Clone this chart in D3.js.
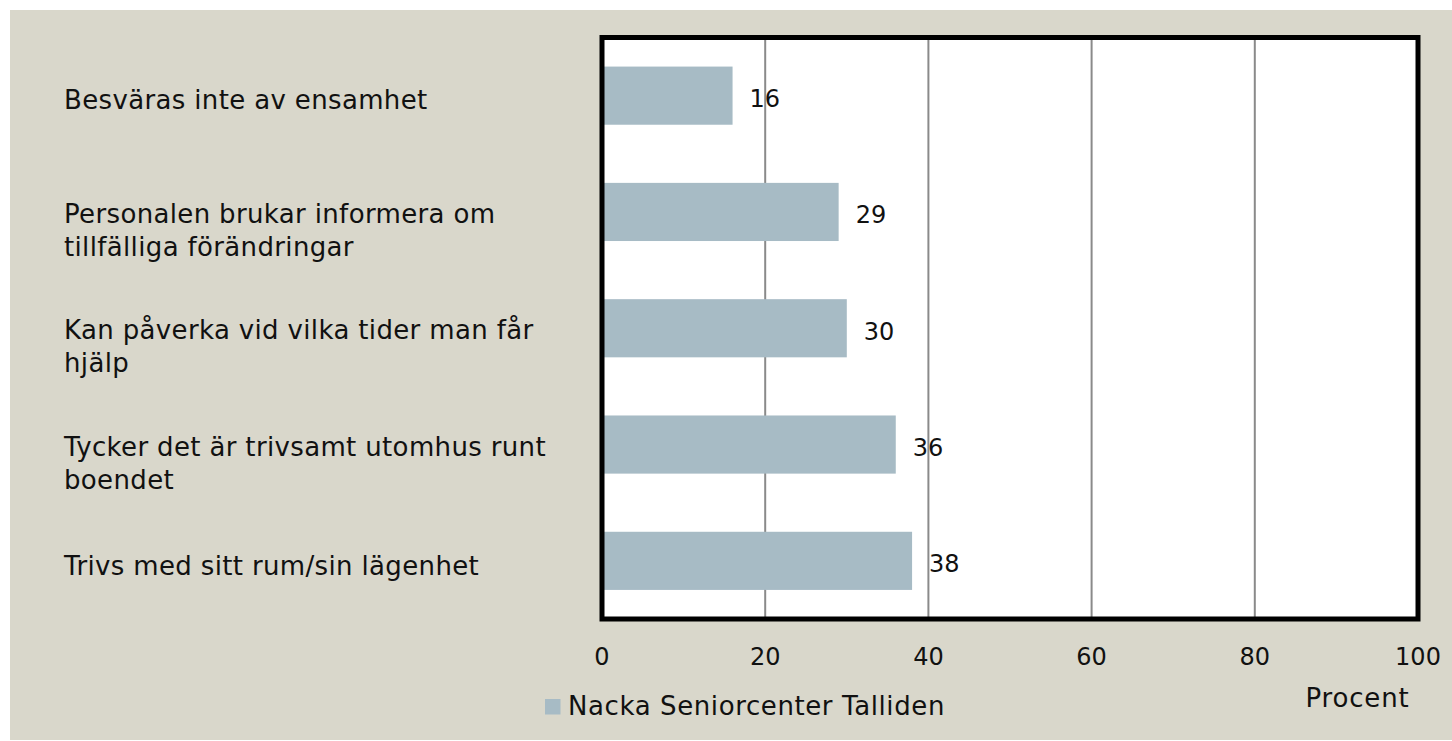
<!DOCTYPE html>
<html lang="sv">
<head>
    <meta charset="UTF-8">
    <title>Nacka Seniorcenter Talliden</title>
    <script src="https://d3js.org/d3.v7.min.js"></script>
    <style>
        body { margin: 0; background: #fff; }
        text { font-family: "DejaVu Sans", sans-serif; fill: #111; }
    </style>
</head>
<body>
<svg id="chart"></svg>

<script>
    // Data
    let categories = [
        "Besväras inte av ensamhet",
        "Personalen brukar informera om\ntillfälliga förändringar",
        "Kan påverka vid vilka tider man får\nhjälp",
        "Tycker det är trivsamt utomhus runt\nboendet",
        "Trivs med sitt rum/sin lägenhet"
    ];
    let values = [16, 29, 30, 36, 38];
    let ticks = [0, 20, 40, 60, 80, 100];
    let seriesName = "Nacka Seniorcenter Talliden";
    let axisTitle = "Procent";

    let width = 1452,
        height = 741;

    let plot = {left: 602, right: 1418, top: 37.5, bottom: 619};

    let svg = d3.select("#chart")
        .attr("width", width)
        .attr("height", height);

    // beige background
    svg.append("rect")
        .attr("x", 10)
        .attr("y", 10)
        .attr("width", width - 10)
        .attr("height", height - 11)
        .attr("fill", "#d9d7cb");

    let x = d3.scaleLinear()
        .domain([0, 100])
        .range([plot.left, plot.right]);

    let y = d3.scaleBand()
        .domain(categories)
        .range([plot.top, plot.bottom])
        .paddingInner(0.5)
        .paddingOuter(0.25);

    // plot area
    svg.append("rect")
        .attr("x", plot.left)
        .attr("y", plot.top)
        .attr("width", plot.right - plot.left)
        .attr("height", plot.bottom - plot.top)
        .attr("fill", "#fff");

    // gridlines
    svg.selectAll(".grid")
        .data(ticks.slice(1, -1))
        .enter()
        .append("line")
        .attr("x1", d => x(d))
        .attr("x2", d => x(d))
        .attr("y1", plot.top)
        .attr("y2", plot.bottom)
        .attr("stroke", "#8a8a8a")
        .attr("stroke-width", 2);

    // bars
    svg.selectAll(".bar")
        .data(values)
        .enter()
        .append("rect")
        .attr("x", x(0))
        .attr("y", (d, i) => y(categories[i]))
        .attr("width", d => x(d) - x(0))
        .attr("height", y.bandwidth())
        .attr("fill", "#a7bbc5");

    // value labels
    svg.selectAll(".val")
        .data(values)
        .enter()
        .append("text")
        .attr("x", d => x(d) + 17)
        .attr("y", (d, i) => y(categories[i]) + y.bandwidth() / 2 + 11.5)
        .style("font-size", "24px")
        .text(d => d);

    // frame
    svg.append("rect")
        .attr("x", plot.left)
        .attr("y", plot.top)
        .attr("width", plot.right - plot.left)
        .attr("height", plot.bottom - plot.top)
        .attr("fill", "none")
        .attr("stroke", "#000")
        .attr("stroke-width", 5);

    // category labels
    let cat = svg.selectAll(".cat")
        .data(categories)
        .enter()
        .append("text")
        .attr("x", 64)
        .attr("y", d => y(d) + y.bandwidth() / 2 + (d.indexOf("\n") < 0 ? 13.7 : 11))
        .style("font-size", "26px")
        .style("letter-spacing", "0.35px");

    cat.selectAll("tspan")
        .data(d => d.split("\n"))
        .enter()
        .append("tspan")
        .attr("x", 64)
        .attr("dy", (d, i) => i === 0 ? 0 : 33)
        .text(d => d);

    // tick labels
    svg.selectAll(".tick")
        .data(ticks)
        .enter()
        .append("text")
        .attr("x", d => x(d))
        .attr("y", 665)
        .attr("text-anchor", "middle")
        .style("font-size", "24px")
        .text(d => d);

    svg.append("text")
        .attr("x", 1357.5)
        .attr("y", 706.5)
        .attr("text-anchor", "middle")
        .style("font-size", "26px")
        .style("letter-spacing", "0.8px")
        .text(axisTitle);

    // legend
    svg.append("rect")
        .attr("x", 545)
        .attr("y", 699)
        .attr("width", 15.5)
        .attr("height", 15.5)
        .attr("fill", "#a7bbc5");

    svg.append("text")
        .attr("x", 568)
        .attr("y", 715)
        .style("font-size", "26px")
        .style("letter-spacing", "0.6px")
        .text(seriesName);
</script>
</body>
</html>
